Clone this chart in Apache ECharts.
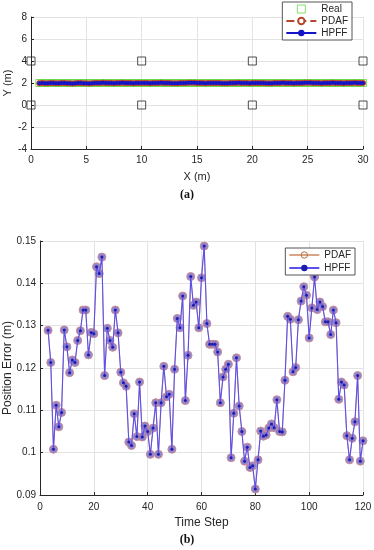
<!DOCTYPE html>
<html><head><meta charset="utf-8">
<script src="https://cdn.jsdelivr.net/npm/echarts@6/dist/echarts.min.js"></script>
<style>
html,body{margin:0;padding:0;background:#fff;width:374px;height:550px;overflow:hidden}
#a{position:absolute;left:0;top:0;width:374px;height:200px}
#b{position:absolute;left:0;top:200px;width:374px;height:350px}
</style></head><body>
<div id="a"></div><div id="b"></div>
<script>
// ---------- DATA ----------
// (a) trajectory
const anchorX = [0,10,20,30,0,10,20,30];
const anchorY = [4,4,4,4,0,0,0,0];
const posX = [0.75,1,1.25,1.5,1.75,2,2.25,2.5,2.75,3,3.25,3.5,3.75,4,4.25,4.5,4.75,5,5.25,5.5,5.75,6,6.25,6.5,6.75,7,7.25,7.5,7.75,8,8.25,8.5,8.75,9,9.25,9.5,9.75,10,10.25,10.5,10.75,11,11.25,11.5,11.75,12,12.25,12.5,12.75,13,13.25,13.5,13.75,14,14.25,14.5,14.75,15,15.25,15.5,15.75,16,16.25,16.5,16.75,17,17.25,17.5,17.75,18,18.25,18.5,18.75,19,19.25,19.5,19.75,20,20.25,20.5,20.75,21,21.25,21.5,21.75,22,22.25,22.5,22.75,23,23.25,23.5,23.75,24,24.25,24.5,24.75,25,25.25,25.5,25.75,26,26.25,26.5,26.75,27,27.25,27.5,27.75,28,28.25,28.5,28.75,29,29.25,29.5,29.75,30];
const realY = [2,2,2,2,2,2,2,2,2,2,2,2,2,2,2,2,2,2,2,2,2,2,2,2,2,2,2,2,2,2,2,2,2,2,2,2,2,2,2,2,2,2,2,2,2,2,2,2,2,2,2,2,2,2,2,2,2,2,2,2,2,2,2,2,2,2,2,2,2,2,2,2,2,2,2,2,2,2,2,2,2,2,2,2,2,2,2,2,2,2,2,2,2,2,2,2,2,2,2,2,2,2,2,2,2,2,2,2,2,2,2,2,2,2,2,2,2,2];
const pdafY = [1.98,1.99,1.97,1.98,2.00,1.99,1.98,1.97,1.99,2.00,
1.98,1.97,1.96,1.98,1.99,2.00,1.98,1.97,1.96,1.97,
1.99,2.00,2.01,2.02,2.01,2.00,1.99,1.98,2.00,2.01,
2.02,2.01,2.00,1.99,1.98,1.99,2.00,2.01,2.00,1.99,
1.98,1.99,2.00,2.01,2.02,2.01,2.00,1.99,1.98,1.97,
1.98,1.99,2.00,2.01,2.02,2.03,2.02,2.01,2.00,1.99,
1.98,1.99,2.00,2.01,2.00,1.99,1.98,1.97,1.98,1.99,
2.00,2.01,2.02,2.01,2.00,1.99,1.98,1.99,2.00,2.01,
2.00,1.99,1.98,1.97,1.98,1.99,2.00,2.01,2.02,2.01,
2.00,1.99,1.98,1.99,2.00,2.01,2.02,2.03,2.02,2.01,
2.00,1.99,1.98,1.99,2.00,2.01,2.02,2.01,2.00,1.99,
1.98,1.99,2.00,2.01,2.02,2.01,2.00,2.00];
const hpffY = [1.98,1.99,1.97,1.98,2.00,1.99,1.98,1.97,1.99,2.00,
1.98,1.97,1.96,1.98,1.99,2.00,1.98,1.97,1.96,1.97,
1.99,2.00,2.01,2.02,2.01,2.00,1.99,1.98,2.00,2.01,
2.02,2.01,2.00,1.99,1.98,1.99,2.00,2.01,2.00,1.99,
1.98,1.99,2.00,2.01,2.02,2.01,2.00,1.99,1.98,1.97,
1.98,1.99,2.00,2.01,2.02,2.03,2.02,2.01,2.00,1.99,
1.98,1.99,2.00,2.01,2.00,1.99,1.98,1.97,1.98,1.99,
2.00,2.01,2.02,2.01,2.00,1.99,1.98,1.99,2.00,2.01,
2.00,1.99,1.98,1.97,1.98,1.99,2.00,2.01,2.02,2.01,
2.00,1.99,1.98,1.99,2.00,2.01,2.02,2.03,2.02,2.01,
2.00,1.99,1.98,1.99,2.00,2.01,2.02,2.01,2.00,1.99,
1.98,1.99,2.00,2.01,2.02,2.01,2.00,2.00];
const xTicksA = [0,5,10,15,20,25,30];
const yTicksA = [-4,-2,0,2,4,6,8];

// (b) position error
const timeSteps = [3,4,5,6,7,8,9,10,11,12,13,14,15,16,17,18,19,20,21,22,23,24,25,26,27,28,29,30,31,32,33,34,35,36,37,38,39,40,41,42,43,44,45,46,47,48,49,50,51,52,53,54,55,56,57,58,59,60,61,62,63,64,65,66,67,68,69,70,71,72,73,74,75,76,77,78,79,80,81,82,83,84,85,86,87,88,89,90,91,92,93,94,95,96,97,98,99,100,101,102,103,104,105,106,107,108,109,110,111,112,113,114,115,116,117,118,119,120];
const pdafErr = [0.1289,0.1213,0.1008,0.1112,0.1061,0.1095,0.1290,0.1250,0.1189,0.1219,
0.1213,0.1265,0.1288,0.1337,0.1337,0.1231,0.1284,0.1281,0.1439,0.1423,
0.1462,0.1182,0.1294,0.1265,0.1249,0.1337,0.1283,0.1190,0.1165,0.1157,
0.1025,0.1017,0.1092,0.1038,0.1167,0.1037,0.1063,0.1050,0.0996,0.1058,
0.1118,0.0996,0.1118,0.1204,0.1132,0.1138,0.1008,0.1197,0.1317,0.1295,
0.1370,0.1123,0.1230,0.1416,0.1348,0.1356,0.1295,0.1413,0.1488,0.1305,
0.1256,0.1256,0.1256,0.1238,0.1118,0.1179,0.1197,0.1209,0.0988,0.1093,
0.1224,0.1110,0.1050,0.0980,0.1013,0.0965,0.0969,0.0914,0.0983,0.1051,
0.1039,0.1042,0.1058,0.1068,0.1059,0.1125,0.1050,0.1049,0.1171,0.1322,
0.1315,0.1191,0.1201,0.1314,0.1358,0.1392,0.1372,0.1271,0.1342,0.1415,
0.1338,0.1356,0.1345,0.1309,0.1309,0.1279,0.1337,0.1307,0.1126,0.1167,
0.1160,0.1040,0.0983,0.1034,0.1073,0.1182,0.0980,0.1028];
const hpffErr = [0.1289,0.1213,0.1008,0.1112,0.1061,0.1095,0.1290,0.1250,0.1189,0.1219,
0.1213,0.1265,0.1288,0.1337,0.1337,0.1231,0.1284,0.1281,0.1439,0.1423,
0.1462,0.1182,0.1294,0.1265,0.1249,0.1337,0.1283,0.1190,0.1165,0.1157,
0.1025,0.1017,0.1092,0.1038,0.1167,0.1037,0.1063,0.1050,0.0996,0.1058,
0.1118,0.0996,0.1118,0.1204,0.1132,0.1138,0.1008,0.1197,0.1317,0.1295,
0.1370,0.1123,0.1230,0.1416,0.1348,0.1356,0.1295,0.1413,0.1488,0.1305,
0.1256,0.1256,0.1256,0.1238,0.1118,0.1179,0.1197,0.1209,0.0988,0.1093,
0.1224,0.1110,0.1050,0.0980,0.1013,0.0965,0.0969,0.0914,0.0983,0.1051,
0.1039,0.1042,0.1058,0.1068,0.1059,0.1125,0.1050,0.1049,0.1171,0.1322,
0.1315,0.1191,0.1201,0.1314,0.1358,0.1392,0.1372,0.1271,0.1342,0.1415,
0.1338,0.1356,0.1345,0.1309,0.1309,0.1279,0.1337,0.1307,0.1126,0.1167,
0.1160,0.1040,0.0983,0.1034,0.1073,0.1182,0.0980,0.1028];
const xTicksB = [0,20,40,60,80,100,120];
const yTicksB = [0.09,0.1,0.11,0.12,0.13,0.14,0.15];

// ---------- HELPERS ----------
const FONT = 'Liberation Sans';
const TXT = '#262626';
const zip = (xs, ys) => xs.map((x, i) => [x, ys[i]]);
function axisCommon(min, max, step, extra) {
  return Object.assign({
    type: 'value', min: min, max: max, interval: step,
    axisLine: { show: true, onZero: false, lineStyle: { color: TXT, width: 1 } },
    axisTick: { show: true, inside: true, length: 3, lineStyle: { color: TXT } },
    axisLabel: { color: TXT, fontFamily: FONT, fontSize: 10 },
    splitLine: { show: true, lineStyle: { color: '#e3e3e3', width: 1 } },
    nameTextStyle: { color: TXT, fontFamily: FONT, fontSize: 11 }
  }, extra || {});
}
const SQUARE = 'path://M0,0L10,0L10,10L0,10Z';

// ---------- CHART (a) ----------
const ca = echarts.init(document.getElementById('a'), null, { renderer: 'canvas' });
ca.setOption({
  animation: false,
  backgroundColor: '#fff',
  grid: { left: 31, top: 17, width: 332, height: 132, containLabel: false, outerBoundsMode: 'none' },
  xAxis: axisCommon(xTicksA[0], xTicksA[xTicksA.length - 1], 5, {
    name: 'X (m)', nameLocation: 'middle', nameGap: 22,
    axisLabel: { color: TXT, fontFamily: FONT, fontSize: 10, margin: 6 }
  }),
  yAxis: axisCommon(yTicksA[0], yTicksA[yTicksA.length - 1], 2, {
    name: 'Y (m)', nameLocation: 'middle', nameGap: 18, nameMoveOverlap: false,
    axisLabel: { color: TXT, fontFamily: FONT, fontSize: 10, margin: 4 }
  }),
  legend: {
    right: 22, top: 2, orient: 'vertical', itemGap: 2, itemWidth: 30, itemHeight: 8,
    symbolKeepAspect: true,
    backgroundColor: '#fff', borderColor: '#555', borderWidth: 1, padding: [2, 4, 2, 3],
    textStyle: { color: TXT, fontFamily: FONT, fontSize: 10 },
    data: [
      { name: 'Real', icon: SQUARE, itemStyle: { color: 'transparent', borderColor: '#66d845', borderWidth: 1 } },
      { name: 'PDAF' },
      { name: 'HPFF' }
    ]
  },
  series: [
    { name: 'Anchor', type: 'scatter', symbol: 'rect', symbolSize: 8,
      itemStyle: { color: 'transparent', borderColor: '#222', borderWidth: 1 },
      data: zip(anchorX, anchorY), z: 5 },
    { name: 'Real', type: 'scatter', symbol: 'rect', symbolSize: 7,
      itemStyle: { color: 'transparent', borderColor: '#66d845', borderWidth: 1 },
      data: zip(posX, realY), z: 2 },
    { name: 'PDAF', type: 'line', symbol: 'emptyCircle', symbolSize: 4, showSymbol: true,
      lineStyle: { color: '#b5462a', width: 1, type: 'dashed' },
      itemStyle: { color: '#b5462a', borderColor: '#b5462a', borderWidth: 1 },
      data: zip(posX, pdafY), z: 3 },
    { name: 'HPFF', type: 'line', symbol: 'circle', symbolSize: 4, showSymbol: true,
      lineStyle: { color: '#1414c8', width: 1.2 },
      itemStyle: { color: '#1414c8' },
      data: zip(posX, hpffY), z: 4 }
  ],
  graphic: [
    { type: 'text', left: 'center', top: 189,
      style: { text: '(a)', fontFamily: 'Liberation Serif', fontWeight: 'bold', fontSize: 12, fill: '#111' } }
  ]
});

// ---------- CHART (b) ----------
const cb = echarts.init(document.getElementById('b'), null, { renderer: 'canvas' });
cb.setOption({
  animation: false,
  backgroundColor: '#fff',
  grid: { left: 40, top: 41, width: 323, height: 254, containLabel: false, outerBoundsMode: 'none' },
  xAxis: axisCommon(xTicksB[0], xTicksB[xTicksB.length - 1], 20, {
    name: 'Time Step', nameLocation: 'middle', nameGap: 22,
    axisLabel: { color: TXT, fontFamily: FONT, fontSize: 10, margin: 7 },
    nameTextStyle: { color: TXT, fontFamily: FONT, fontSize: 12 }
  }),
  yAxis: axisCommon(yTicksB[0], yTicksB[yTicksB.length - 1], 0.01, {
    name: 'Position Error (m)', nameLocation: 'middle', nameGap: 26, nameMoveOverlap: false,
    axisLabel: { color: TXT, fontFamily: FONT, fontSize: 10, margin: 4,
      formatter: v => String(+v.toFixed(2)) },
    nameTextStyle: { color: TXT, fontFamily: FONT, fontSize: 12 }
  }),
  legend: {
    right: 19, top: 48, orient: 'vertical', itemGap: 3, itemWidth: 30, itemHeight: 8,
    backgroundColor: '#fff', borderColor: '#555', borderWidth: 1, padding: [2, 4, 2, 3],
    textStyle: { color: TXT, fontFamily: FONT, fontSize: 10 },
    data: [
      { name: 'PDAF', itemStyle: { color: 'transparent', borderColor: '#b07040', borderWidth: 1 } },
      { name: 'HPFF' }
    ]
  },
  series: [
    { name: 'PDAF', type: 'line', symbol: 'circle', symbolSize: 8, showSymbol: true,
      lineStyle: { color: '#d9a585', width: 1 },
      itemStyle: { color: 'rgba(135,120,195,0.9)', borderColor: '#c88c98', borderWidth: 1 },
      data: zip(timeSteps, pdafErr), z: 2 },
    { name: 'HPFF', type: 'line', symbol: 'circle', symbolSize: 3, showSymbol: true,
      lineStyle: { color: '#5a50f0', width: 1.1 },
      itemStyle: { color: '#1c1cb0' },
      data: zip(timeSteps, hpffErr), z: 3 }
  ],
  graphic: [
    { type: 'text', left: 'center', top: 334,
      style: { text: '(b)', fontFamily: 'Liberation Serif', fontWeight: 'bold', fontSize: 12, fill: '#111' } }
  ]
});
</script>
</body></html>
